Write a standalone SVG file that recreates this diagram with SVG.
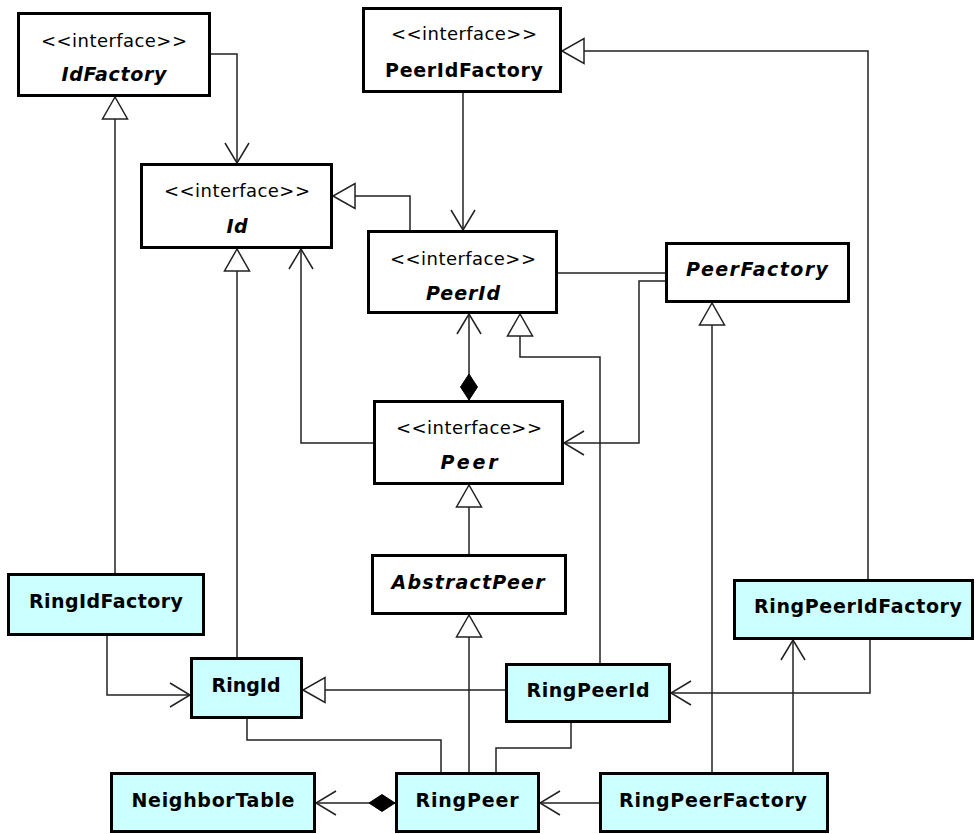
<svg xmlns="http://www.w3.org/2000/svg" width="975" height="834" viewBox="0 0 975 834">
  <style>
    .box { fill: #ffffff; stroke: #000000; stroke-width: 3; }
    .impl { fill: #ccffff; stroke: #000000; stroke-width: 3; }
    .stereo { font-family: "DejaVu Sans", "Liberation Sans", sans-serif; font-size: 18px; fill: #000; text-anchor: middle; }
    .name { font-family: "DejaVu Sans", "Liberation Sans", sans-serif; font-size: 19px; font-weight: bold; fill: #000; text-anchor: middle; }
    .abs { font-style: italic; }
    .edge { fill: none; stroke: #222; stroke-width: 1.5; }
  </style>
  <defs>
    <!-- hollow triangle: generalization -->
    <marker id="gen" markerUnits="userSpaceOnUse" markerWidth="30" markerHeight="30" refX="0" refY="0" orient="auto" overflow="visible">
      <path d="M0,0 L-22,-12.5 L-22,12.5 Z" fill="#fff" stroke="#222" stroke-width="1.5"/>
    </marker>
    <!-- open arrow: navigable association -->
    <marker id="arrow" markerUnits="userSpaceOnUse" markerWidth="30" markerHeight="30" refX="0" refY="0" orient="auto" overflow="visible">
      <path d="M-20,-12 L0,0 L-20,12" fill="none" stroke="#222" stroke-width="1.5"/>
    </marker>
    <!-- filled diamond: composition -->
    <marker id="diamond" markerUnits="userSpaceOnUse" markerWidth="30" markerHeight="30" refX="0" refY="0" orient="auto" overflow="visible">
      <path d="M0,0 L13,-8.5 L26,0 L13,8.5 Z" fill="#000" stroke="#000" stroke-width="1"/>
    </marker>
  </defs>

  <g id="connectors">
    <path class="edge" d="M211,54 H237 V163" marker-end="url(#arrow)"/>
    <path class="edge" d="M463,93 V230" marker-end="url(#arrow)"/>
    <path class="edge" d="M410,230 V196 H333" marker-end="url(#gen)"/>
    <path class="edge" d="M115,573 V97" marker-end="url(#gen)"/>
    <path class="edge" d="M237,657 V249" marker-end="url(#gen)"/>
    <path class="edge" d="M373,443 H301 V249" marker-end="url(#arrow)"/>
    <path class="edge" d="M558,273 H665"/>
    <path class="edge" d="M665,281 H639 V443 H564" marker-end="url(#arrow)"/>
    <path class="edge" d="M469,400 V314" marker-start="url(#diamond)" marker-end="url(#arrow)"/>
    <path class="edge" d="M469,772 V615" marker-end="url(#gen)"/>
    <path class="edge" d="M469,554 V485" marker-end="url(#gen)"/>
    <path class="edge" d="M600,663 V357 H520 V314" marker-end="url(#gen)"/>
    <path class="edge" d="M712,772 V303" marker-end="url(#gen)"/>
    <path class="edge" d="M868,579 V51 H562" marker-end="url(#gen)"/>
    <path class="edge" d="M793,772 V640" marker-end="url(#arrow)"/>
    <path class="edge" d="M870,640 V693 H671" marker-end="url(#arrow)"/>
    <path class="edge" d="M107,636 V695 H190" marker-end="url(#arrow)"/>
    <path class="edge" d="M505,690 H303" marker-end="url(#gen)"/>
    <path class="edge" d="M247,719 V740 H441 V772"/>
    <path class="edge" d="M571,723 V748 H496 V772"/>
    <path class="edge" d="M599,803 H540" marker-end="url(#arrow)"/>
    <path class="edge" d="M395,803 H316" marker-start="url(#diamond)" marker-end="url(#arrow)"/>
  </g>

  <g id="IdFactory">
    <rect class="box" x="18.5" y="13.5" width="191" height="82"/>
    <text class="stereo" x="114" y="47" textLength="146" lengthAdjust="spacing">&lt;&lt;interface&gt;&gt;</text>
    <text class="name abs" x="114" y="81" textLength="105" lengthAdjust="spacing">IdFactory</text>
  </g>
  <g id="Id">
    <rect class="box" x="141.5" y="164.5" width="190" height="83"/>
    <text class="stereo" x="237" y="197" textLength="146" lengthAdjust="spacing">&lt;&lt;interface&gt;&gt;</text>
    <text class="name abs" x="237" y="233" textLength="21" lengthAdjust="spacing">Id</text>
  </g>
  <g id="PeerIdFactory">
    <rect class="box" x="363.5" y="8.5" width="197" height="83"/>
    <text class="stereo" x="464" y="40" textLength="146" lengthAdjust="spacing">&lt;&lt;interface&gt;&gt;</text>
    <text class="name" x="464" y="77" textLength="158" lengthAdjust="spacing">PeerIdFactory</text>
  </g>
  <g id="PeerId">
    <rect class="box" x="368.5" y="231.5" width="188" height="81"/>
    <text class="stereo" x="463" y="265" textLength="146" lengthAdjust="spacing">&lt;&lt;interface&gt;&gt;</text>
    <text class="name abs" x="463" y="300" textLength="74" lengthAdjust="spacing">PeerId</text>
  </g>
  <g id="PeerFactory">
    <rect class="box" x="666.5" y="243.5" width="182" height="58"/>
    <text class="name abs" x="757" y="276" textLength="142" lengthAdjust="spacing">PeerFactory</text>
  </g>
  <g id="Peer">
    <rect class="box" x="374.5" y="401.5" width="188" height="82"/>
    <text class="stereo" x="469" y="434" textLength="146" lengthAdjust="spacing">&lt;&lt;interface&gt;&gt;</text>
    <text class="name abs" x="469" y="469" textLength="57" lengthAdjust="spacing">Peer</text>
  </g>
  <g id="AbstractPeer">
    <rect class="box" x="372.5" y="555.5" width="193" height="58"/>
    <text class="name abs" x="468" y="589" textLength="153" lengthAdjust="spacing">AbstractPeer</text>
  </g>
  <g id="RingIdFactory">
    <rect class="impl" x="8.5" y="574.5" width="195" height="60"/>
    <text class="name" x="106" y="608" textLength="154" lengthAdjust="spacing">RingIdFactory</text>
  </g>
  <g id="RingId">
    <rect class="impl" x="191.5" y="658.5" width="110" height="59"/>
    <text class="name" x="246" y="692" textLength="69" lengthAdjust="spacing">RingId</text>
  </g>
  <g id="RingPeerId">
    <rect class="impl" x="506.5" y="664.5" width="163" height="57"/>
    <text class="name" x="588" y="697" textLength="123" lengthAdjust="spacing">RingPeerId</text>
  </g>
  <g id="RingPeerIdFactory">
    <rect class="impl" x="734.5" y="580.5" width="238" height="58"/>
    <text class="name" x="858" y="613" textLength="208" lengthAdjust="spacing">RingPeerIdFactory</text>
  </g>
  <g id="NeighborTable">
    <rect class="impl" x="111.5" y="773.5" width="203" height="58"/>
    <text class="name" x="213" y="807" textLength="163" lengthAdjust="spacing">NeighborTable</text>
  </g>
  <g id="RingPeer">
    <rect class="impl" x="396.5" y="773.5" width="142" height="58"/>
    <text class="name" x="467" y="807" textLength="103" lengthAdjust="spacing">RingPeer</text>
  </g>
  <g id="RingPeerFactory">
    <rect class="impl" x="600.5" y="773.5" width="227" height="58"/>
    <text class="name" x="713" y="807" textLength="188" lengthAdjust="spacing">RingPeerFactory</text>
  </g>
</svg>
